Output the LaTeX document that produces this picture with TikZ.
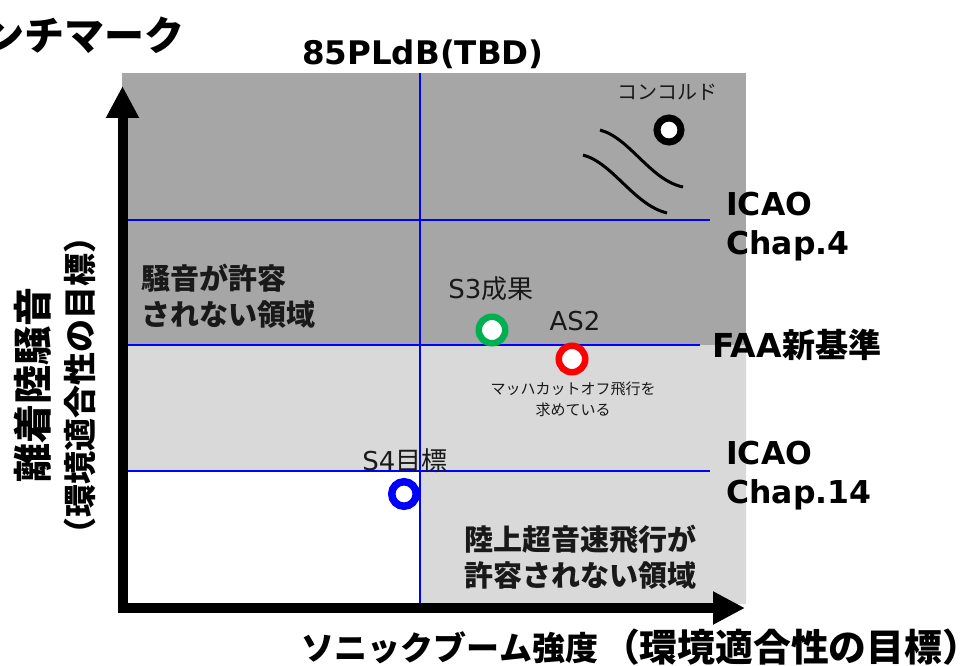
\documentclass[tikz,border=0pt]{standalone}
\usepackage{fontspec}
\setmainfont{Noto Sans CJK JP}
\newfontfamily\lat{DejaVu Sans}
\usetikzlibrary{arrows.meta}
\definecolor{dgray}{HTML}{A6A6A6}
\definecolor{lgray}{HTML}{D9D9D9}
\definecolor{grn}{HTML}{00B050}
\definecolor{bl}{HTML}{0000FF}
\definecolor{rd}{HTML}{FF0000}
\begin{document}
\begin{tikzpicture}[x=1pt,y=-1pt,
  bluel/.style={draw=bl, line width=2pt},
  ring/.style={circle, fill=white, line width=6.5pt, minimum size=26.5pt, inner sep=0pt},
  lab/.style={inner sep=0pt, font=\fontsize{26}{30}\selectfont, text=black!90},
  small/.style={inner sep=0pt, font=\fontsize{15}{21}\selectfont, align=center, text=black!90},
  bold/.style={inner sep=0pt, font=\bfseries\fontsize{31.5}{39}\selectfont, align=left},
  region/.style={inner sep=0pt, font=\bfseries\fontsize{29}{36}\selectfont, text=black!90},
  axislab/.style={inner sep=0pt, font=\bfseries\fontsize{34}{40}\selectfont},
  wave/.style={draw=black, line width=3pt},
  ]
\useasboundingbox (0,0) rectangle (980,666);
% background regions
\fill[dgray] (122,73) rectangle (746,345);
\fill[lgray] (122,345) -- (746,345) -- (746,604) -- (420,604) -- (420,470) -- (122,470) -- cycle;
% blue reference lines
\coordinate (vtop) at (420,73);
\coordinate (vbot) at (420,606);
\coordinate (h1a) at (122,220); \coordinate (h1b) at (710,220);
\coordinate (h2a) at (122,345); \coordinate (h2b) at (700,345);
\coordinate (h3a) at (122,471); \coordinate (h3b) at (710,471);
\draw[bluel] (vtop) -- (vbot);
\draw[bluel] (h1a) -- (h1b);
\draw[bluel] (h2a) -- (h2b);
\draw[bluel] (h3a) -- (h3b);
% axes
\coordinate (ytip) at (122.5,86);
\coordinate (origin) at (122.5,608);
\coordinate (xtip) at (745,608);
\draw[line width=10pt, line join=miter,
  {Triangle[length=32pt,width=31pt]}-{Triangle[length=32pt,width=31pt]}]
  (ytip) -- (origin) -- (xtip);
% concorde waves
\coordinate (w1s) at (600,130); \coordinate (w1e) at (683,187);
\coordinate (w2s) at (583,155); \coordinate (w2e) at (667,213);
\draw[wave] (w1s) .. controls (630,138) and (650,180) .. (w1e);
\draw[wave] (w2s) .. controls (613,163) and (634,205) .. (w2e);
% markers
\node[ring, draw=black, line width=7pt, minimum size=24pt] (concorde) at (669,130) {};
\node[ring, draw=grn] (s3) at (492,330) {};
\node[ring, draw=rd] (as2) at (572,359) {};
\node[ring, draw=bl, line width=7.5pt, minimum size=24.5pt] (s4) at (404,494) {};
% marker labels
\node[lab, font=\fontsize{20}{22}\selectfont, anchor=base] (concordeL) at (667,100) {コンコルド};
\node[lab, anchor=base] (s3L) at (491,298) {{\lat S3}成果};
\node[lab, anchor=base] (as2L) at (575,330) {\lat AS2};
\node[lab, anchor=base] (s4L) at (405,470) {{\lat S4}目標};
\node[small, anchor=base] (as2note) at (573,415) {マッハカットオフ飛行を\\求めている};
% region labels
\node[region, anchor=base west, align=left] (noiseR) at (141,325) {騒音が許容\\されない領域};
\node[region, anchor=base, align=center] (boomR) at (580,586) {陸上超音速飛行が\\許容されない領域};
% standard labels
\node[bold, anchor=base west] (icao4) at (726,254) {\lat\bfseries ICAO\\\lat\bfseries Chap.4};
\node[bold, font=\bfseries\fontsize{33}{39}\selectfont, anchor=base west] (faa) at (712,357) {{\lat\bfseries FAA}新基準};
\node[bold, anchor=base west] (icao14) at (726,503) {\lat\bfseries ICAO\\\lat\bfseries Chap.14};
\node[bold, font=\bfseries\fontsize{32.5}{39}\selectfont, anchor=base west] (pldb) at (302,65) {\lat\bfseries 85PLdB(TBD)};
% title (cut at left edge)
\node[inner sep=0pt, font=\bfseries\fontsize{40}{44}\selectfont, anchor=base east] (title) at (185,51) {ンチマーク};
% axis labels
\node[axislab, font=\bfseries\fontsize{39}{44}\selectfont, rotate=90] (ylab1) at (33,385) {離着陸騒音};
\node[axislab, font=\bfseries\fontsize{33}{40}\selectfont, rotate=90] (ylab2) at (80,385) {（環境適合性の目標）};
\node[axislab, font=\bfseries\fontsize{33}{40}\selectfont, anchor=base] (xlab1) at (450,660) {ソニックブーム強度};
\node[axislab, font=\bfseries\fontsize{37.8}{40}\selectfont, anchor=base] (xlab2) at (791,661) {（環境適合性の目標）};
\end{tikzpicture}
\end{document}
